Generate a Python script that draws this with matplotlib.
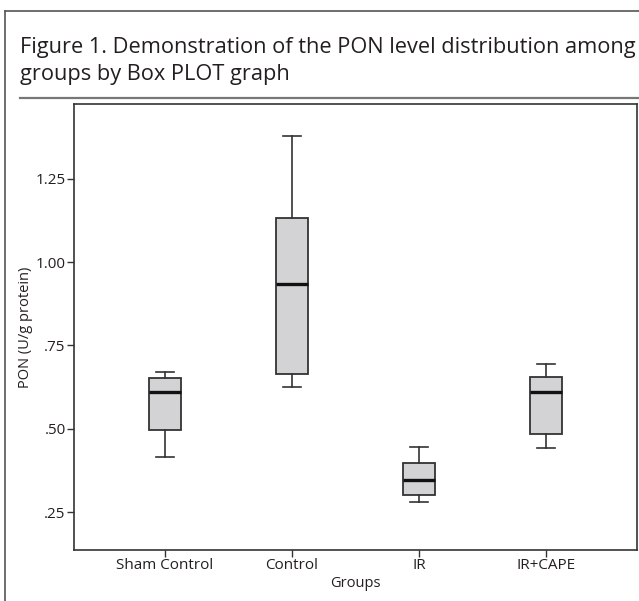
import matplotlib
matplotlib.use("Agg")
from matplotlib import pyplot as plt
from matplotlib.lines import Line2D
from matplotlib.ticker import FixedLocator, FixedFormatter

plt.rcParams['font.family'] = ['Open Sans', 'DejaVu Sans']

groups = ["Sham Control", "Control", "IR", "IR+CAPE"]
whisker_low = [0.415, 0.625, 0.280, 0.442]
q1 = [0.496, 0.664, 0.301, 0.484]
medians = [0.610, 0.935, 0.346, 0.610]
q3 = [0.652, 1.133, 0.397, 0.655]
whisker_high = [0.670, 1.379, 0.445, 0.694]

ytick_vals = [0.25, 0.50, 0.75, 1.00, 1.25]
ytick_labels = [".25", ".50", ".75", "1.00", "1.25"]

W, H = 639, 601
fig = plt.figure(figsize=(W / 100, H / 100), dpi=100)

# outer frame: top and left edges
fig.add_artist(Line2D([5 / W, 1], [1 - 11 / H, 1 - 11 / H], color="#555555", lw=1.2))
fig.add_artist(Line2D([5 / W, 5 / W], [0, 1 - 11 / H], color="#555555", lw=1.2))
# rule under the caption
fig.add_artist(Line2D([20 / W, 1], [1 - 98 / H, 1 - 98 / H], color="#777777", lw=1.6))

fig.text(20 / W, 1 - 53 / H, "Figure 1. Demonstration of the PON level distribution among",
         fontsize=15.7, color="#231f20", ha="left", va="baseline")
fig.text(20 / W, 1 - 80 / H, "groups by Box PLOT graph",
         fontsize=15.7, color="#231f20", ha="left", va="baseline")

ax = fig.add_axes([74 / W, 1 - 550 / H, (637 - 74) / W, (550 - 104) / H])

stats = []
for name, lo, a, m, b, hi in zip(groups, whisker_low, q1, medians, q3, whisker_high):
    stats.append({"label": name, "whislo": lo, "q1": a, "med": m, "q3": b, "whishi": hi, "fliers": []})

ax.bxp(stats, positions=[1, 2, 3, 4], widths=0.25, patch_artist=True, showfliers=False,
       boxprops=dict(facecolor="#d3d3d5", edgecolor="#333333", linewidth=1.3),
       medianprops=dict(color="#111111", linewidth=2.4),
       whiskerprops=dict(color="#333333", linewidth=1.2),
       capprops=dict(color="#333333", linewidth=1.2),
       capwidths=0.14)

ax.set_xlim(0.283, 4.717)
ax.set_ylim(0.136, 1.475)
ax.yaxis.set_major_locator(FixedLocator(ytick_vals))
ax.yaxis.set_major_formatter(FixedFormatter(ytick_labels))
ax.set_xticks([1, 2, 3, 4])
ax.set_xticklabels(groups)

for s in ax.spines.values():
    s.set_color("#333333")
    s.set_linewidth(1.2)
ax.tick_params(direction="out", length=5, width=1, color="#333333",
               labelsize=11, labelcolor="#231f20", pad=1)

ax.set_ylabel("PON (U/g protein)", fontsize=10.5, color="#231f20", labelpad=2)
ax.set_xlabel("Groups", fontsize=10.5, color="#231f20", labelpad=2)

fig.savefig("out.png", dpi=100)
